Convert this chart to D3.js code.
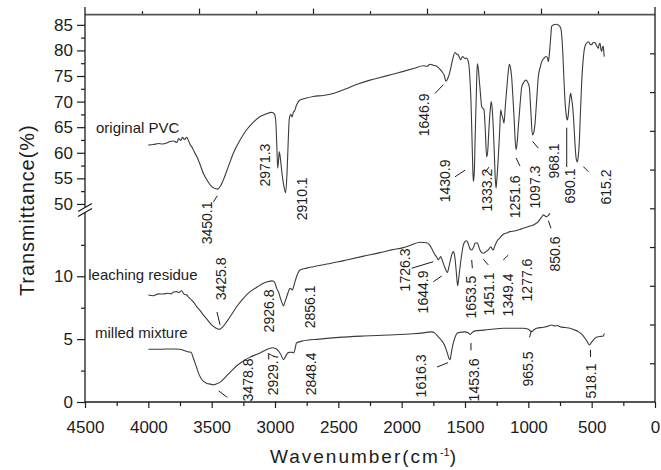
<!DOCTYPE html>
<html>
<head>
<meta charset="utf-8">
<script src="https://cdn.jsdelivr.net/npm/d3@7"></script>
<style>
  body { margin: 0; background: #fff; }
  svg { display: block; }
  text { font-family: "Liberation Sans", Arial, Helvetica, sans-serif; fill: #1c1c1c; }
</style>
</head>
<body>
<svg id="chart" width="661" height="470"></svg>
<script>
// FTIR spectra: [wavenumber (cm-1), transmittance (%)]
const originalPVC = [
  [4000,61.5],[3960,61.6],[3920,61.8],[3890,61.7],[3855,61.9],[3830,62.2],[3800,62.3],[3775,62.0],
  [3760,62.8],[3745,62.4],[3730,63.0],[3715,62.6],[3697,63.0],[3680,62.2],[3670,61.6],[3658,61.2],
  [3640,60.3],[3618,59.3],[3590,57.6],[3566,56.0],[3530,54.4],[3500,53.4],[3470,53.0],[3455,52.9],
  [3430,53.5],[3408,54.7],[3370,57.2],[3329,59.9],[3280,62.3],[3224,64.5],[3170,66.0],[3118,67.1],
  [3070,67.6],[3026,67.9],[3005,67.6],[2995,66.5],[2985,61.0],[2979,57.0],[2972,58.5],[2966,60.2],
  [2958,59.0],[2945,56.0],[2930,53.5],[2916,52.2],[2905,56.0],[2896,62.0],[2887,66.7],[2875,67.5],
  [2866,67.0],[2855,67.9],[2845,68.2],[2832,69.2],[2815,70.0],[2803,70.3],[2750,70.7],[2698,71.0],
  [2620,71.2],[2540,71.6],[2450,72.4],[2350,73.4],[2250,74.2],[2171,74.7],[2080,75.3],[1987,75.9],
  [1900,76.5],[1830,77.0],[1800,76.9],[1776,77.3],[1750,77.1],[1724,76.9],[1700,76.4],[1684,75.9],
  [1665,75.2],[1650,74.0],[1635,74.6],[1618,75.9],[1600,78.0],[1579,79.6],[1566,79.3],[1553,79.1],
  [1534,78.2],[1520,78.8],[1513,78.7],[1500,78.4],[1487,78.5],[1476,78.0],[1468,76.9],[1460,74.0],
  [1453,70.3],[1445,63.0],[1438,56.5],[1434,54.4],[1427,56.0],[1419,63.8],[1410,72.0],[1403,77.4],
  [1395,76.5],[1387,74.2],[1378,71.5],[1368,69.0],[1350,68.4],[1340,64.5],[1329,59.2],[1320,60.5],
  [1313,63.8],[1302,68.0],[1293,70.0],[1285,68.5],[1277,65.1],[1268,59.5],[1260,54.5],[1255,53.1],
  [1248,55.0],[1237,59.2],[1225,65.0],[1218,68.4],[1210,67.5],[1202,66.8],[1192,65.8],[1182,69.0],
  [1171,72.3],[1160,75.5],[1150,77.3],[1140,76.5],[1132,74.9],[1122,71.0],[1113,67.1],[1105,63.0],
  [1097,60.6],[1088,62.0],[1079,65.1],[1065,69.5],[1052,72.9],[1035,73.8],[1021,74.2],[1005,73.8],
  [992,72.8],[980,68.0],[968,63.5],[957,64.0],[947,65.8],[935,70.0],[921,74.9],[905,76.8],
  [894,77.8],[875,78.5],[860,78.8],[848,78.5],[842,77.8],[835,79.0],[829,80.8],[822,83.0],
  [816,84.7],[800,85.0],[776,85.1],[760,84.9],[745,84.4],[735,82.5],[729,80.1],[720,75.0],
  [711,70.3],[700,67.2],[692,66.4],[685,67.3],[679,69.0],[672,70.8],[666,71.6],[658,70.5],
  [650,69.0],[640,65.5],[632,61.9],[622,58.8],[613,58.2],[605,59.5],[598,61.9],[590,67.0],
  [579,73.6],[566,78.5],[553,80.8],[540,81.4],[526,81.7],[512,81.2],[500,81.1],[487,81.6],
  [474,81.5],[462,81.0],[448,80.4],[440,81.2],[434,81.4],[427,80.2],[421,79.8],[415,80.6],
  [408,80.8],[404,79.6],[400,78.8]
];

const leachingResidue = [
  [4000,8.51],[3960,8.45],[3920,8.6],[3882,8.59],[3850,8.65],[3820,8.6],[3800,8.75],[3776,8.78],
  [3760,8.7],[3737,8.85],[3720,8.6],[3697,8.51],[3680,8.3],[3658,8.11],[3640,7.9],[3618,7.58],
  [3590,7.25],[3566,6.92],[3530,6.5],[3500,6.13],[3470,5.9],[3440,5.78],[3410,6.0],[3381,6.39],
  [3340,7.0],[3303,7.58],[3250,8.25],[3197,8.78],[3140,9.15],[3092,9.44],[3050,9.58],[3026,9.63],
  [3010,9.6],[3000,9.44],[2985,9.0],[2970,8.7],[2961,8.38],[2945,7.9],[2934,7.64],[2920,8.0],
  [2903,8.51],[2890,8.9],[2882,9.05],[2872,9.0],[2863,8.91],[2852,9.2],[2842,9.57],[2825,10.1],
  [2803,10.5],[2750,10.65],[2698,10.76],[2600,10.95],[2500,11.15],[2434,11.3],[2300,11.6],[2171,11.88],
  [2080,12.1],[1987,12.28],[1920,12.5],[1855,12.7],[1803,12.67],[1780,12.5],[1763,12.2],[1750,11.95],
  [1737,11.7],[1722,11.5],[1711,11.3],[1700,11.45],[1692,11.56],[1680,11.3],[1671,11.03],[1655,10.6],
  [1639,10.29],[1628,10.7],[1618,11.16],[1605,11.7],[1592,11.96],[1585,11.8],[1579,11.43],[1570,10.5],
  [1558,9.25],[1550,9.8],[1539,10.76],[1525,11.8],[1513,12.49],[1500,12.75],[1487,12.83],[1475,12.6],
  [1461,12.2],[1447,12.09],[1433,12.3],[1421,12.62],[1403,12.67],[1392,12.4],[1382,12.09],[1370,11.9],
  [1355,11.83],[1335,11.95],[1316,12.09],[1297,12.35],[1287,12.2],[1277,12.09],[1265,12.4],[1250,12.75],
  [1225,13.05],[1198,13.34],[1170,13.45],[1145,13.55],[1110,13.6],[1079,13.68],[1060,13.75],[1040,13.82],
  [1015,13.9],[987,14.0],[965,14.05],[947,14.16],[925,14.3],[908,14.53],[895,14.7],[882,14.88],
  [868,14.8],[855,14.74],[842,14.85],[829,15.0]
];

const milledMixture = [
  [4000,4.2],[3900,4.2],[3800,4.22],[3751,4.2],[3725,4.12],[3707,4.06],[3690,4.0],[3663,3.96],
  [3645,3.5],[3620,2.78],[3600,2.2],[3575,1.75],[3540,1.5],[3510,1.42],[3488,1.37],[3460,1.45],
  [3430,1.6],[3390,2.0],[3342,2.49],[3300,2.9],[3254,3.23],[3200,3.55],[3137,3.82],[3080,4.1],
  [3021,4.31],[2995,4.25],[2977,4.11],[2955,3.8],[2933,3.37],[2915,3.65],[2898,3.91],[2885,3.95],
  [2875,3.96],[2862,3.95],[2851,3.91],[2840,4.3],[2831,4.69],[2787,4.84],[2650,5.0],[2495,5.14],
  [2300,5.25],[2100,5.33],[1911,5.43],[1830,5.5],[1765,5.58],[1740,5.5],[1721,5.29],[1690,4.95],
  [1663,4.55],[1640,3.9],[1625,3.45],[1618,3.37],[1608,3.9],[1596,4.55],[1580,5.1],[1560,5.49],
  [1530,5.55],[1502,5.58],[1475,5.5],[1458,5.38],[1445,5.5],[1429,5.64],[1350,5.72],[1270,5.8],
  [1198,5.86],[1120,5.86],[1040,5.86],[1000,5.78],[985,5.65],[974,5.6],[955,5.75],[934,5.86],
  [880,5.95],[840,6.05],[816,6.13],[790,6.05],[770,6.08],[750,5.99],[710,5.92],[671,5.86],
  [640,5.75],[605,5.6],[575,5.35],[553,5.07],[535,4.8],[518,4.53],[505,4.7],[487,4.93],
  [470,5.1],[448,5.19],[425,5.22],[408,5.25],[400,5.46]
];

// Axis ticks
const xTicks = [4500, 4000, 3500, 3000, 2500, 2000, 1500, 1000, 500, 0];
const upperTicks = [50, 55, 60, 65, 70, 75, 80, 85];
const lowerTicks = [0, 5, 10];

// Peak labels: text, label anchor (wavenumber, transmittance), optional leader line
const pvcPeaks = [
  { text: "3450.1", w: 3533, t: 46.3, lead: [3486, 50.4, 3455, 51.6] },
  { text: "2971.3", w: 3079, t: 57.6 },
  { text: "2910.1", w: 2787, t: 51.0 },
  { text: "1646.9", w: 1824, t: 67.4, lead: [1737, 71.6, 1671, 73.3] },
  { text: "1430.9", w: 1658, t: 54.5, lead: [1579, 55.3, 1500, 56.6] },
  { text: "1333.2", w: 1330, t: 52.7, lead: [1342, 56.1, 1311, 57.2] },
  { text: "1251.6", w: 1105, t: 51.4, lead: [1097, 59.0, 1066, 57.4] },
  { text: "1097.3", w: 947,  t: 53.3, lead: [966, 62.2, 921, 60.9] },
  { text: "968.1",  w: 801,  t: 58.4 },
  { text: "690.1",  w: 675,  t: 53.5, lead: [697, 64.9, 697, 57.2] },
  { text: "615.2",  w: 383,  t: 53.3, lead: [566, 57.3, 526, 56.3] }
];
const residuePeaks = [
  { text: "3425.8", w: 3426, t: 9.79, lead: [3458, 7.16, 3434, 6.13] },
  { text: "2926.8", w: 3047, t: 7.24 },
  { text: "2856.1", w: 2724, t: 7.56 },
  { text: "1726.3", w: 1970, t: 10.5, lead: [1921, 10.64, 1750, 11.16] },
  { text: "1644.9", w: 1828, t: 8.75, lead: [1750, 9.57, 1684, 10.02] },
  { text: "1653.5", w: 1453, t: 8.35, lead: [1447, 11.3, 1442, 10.64] },
  { text: "1451.1", w: 1310, t: 8.59, lead: [1355, 11.35, 1316, 10.9] },
  { text: "1349.4", w: 1164, t: 8.51, lead: [1198, 11.3, 1158, 11.69] },
  { text: "1277.6", w: 1014, t: 9.7 },
  { text: "850.6",  w: 793,  t: 11.77, lead: [842, 14.42, 821, 13.82] }
];
const mixturePeaks = [
  { text: "3478.8", w: 3210, t: 1.75, lead: [3444, 0.875, 3377, 0.374] },
  { text: "2929.7", w: 3016, t: 2.23 },
  { text: "2848.4", w: 2716, t: 2.23 },
  { text: "1616.3", w: 1847, t: 2.07, lead: [1721, 2.78, 1634, 3.13] },
  { text: "1453.6", w: 1429, t: 1.75, lead: [1453, 4.69, 1453, 4.11] },
  { text: "965.5",  w: 999,  t: 2.63, lead: [991, 5.14, 976, 5.67] },
  { text: "518.1",  w: 509,  t: 1.67, lead: [509, 4.14, 509, 3.58] }
];

const seriesNames = [
  { text: "original PVC",    w: 4413, t: 63.9, seg: "upper" },
  { text: "leaching residue", w: 4474, t: 9.7, seg: "lower" },
  { text: "milled mixture",  w: 4421, t: 5.07, seg: "lower" }
];

// ---- scales (broken y axis: upper and lower segments) ----
const svg = d3.select("#chart");
const left = 85, right = 655, bottom = 402, frameTop = 14.6, axisTop = 7;
const x = d3.scaleLinear().domain([4500, 0]).range([left, right]);
const yUp = d3.scaleLinear().domain([49.5, 87]).range([206.5, frameTop]);
const yLo = d3.scaleLinear().domain([0, 15]).range([bottom, 213.4]);
const topScale = d3.scaleLinear().domain([0, 10]).range([left, right]);
const rightScale = d3.scaleLinear().domain([0, 10]).range([bottom, frameTop]);

const ink = "#1c1c1c";
const curveInk = "#3b3b3b";

// ---- spectra ----
const lineUp = d3.line().x(d => x(d[0])).y(d => yUp(d[1])).curve(d3.curveMonotoneX);
const lineLo = d3.line().x(d => x(d[0])).y(d => yLo(d[1])).curve(d3.curveMonotoneX);
svg.append("path").attr("d", lineUp(originalPVC)).attr("fill", "none").attr("stroke", curveInk).attr("stroke-width", 1.1);
svg.append("path").attr("d", lineLo(leachingResidue)).attr("fill", "none").attr("stroke", curveInk).attr("stroke-width", 1.1);
svg.append("path").attr("d", lineLo(milledMixture)).attr("fill", "none").attr("stroke", curveInk).attr("stroke-width", 1.1);

// ---- peak labels ----
function drawPeaks(list, y) {
  const g = svg.append("g");
  list.forEach(p => {
    g.append("text")
      .attr("transform", `translate(${x(p.w)},${y(p.t)}) rotate(-90)`)
      .attr("text-anchor", "middle")
      .attr("dominant-baseline", "central")
      .style("font-size", "14px")
      .text(p.text);
    if (p.lead) {
      g.append("line")
        .attr("x1", x(p.lead[0])).attr("y1", y(p.lead[1]))
        .attr("x2", x(p.lead[2])).attr("y2", y(p.lead[3]))
        .attr("stroke", ink).attr("stroke-width", 1);
    }
  });
}
drawPeaks(pvcPeaks, yUp);
drawPeaks(residuePeaks, yLo);
drawPeaks(mixturePeaks, yLo);

seriesNames.forEach(s => {
  const y = s.seg === "upper" ? yUp : yLo;
  svg.append("text").attr("x", x(s.w)).attr("y", y(s.t))
    .style("font-size", "15px").text(s.text);
});

// ---- axes ----
function styleAxis(g, fontSize) {
  g.select(".domain").remove();
  g.selectAll(".tick line").attr("stroke", ink).attr("stroke-width", 1.2);
  g.selectAll(".tick text").style("font-size", fontSize).attr("fill", ink)
    .style("font-family", '"Liberation Sans", Arial, Helvetica, sans-serif');
}

// bottom axis
const gx = svg.append("g").attr("transform", `translate(0,${bottom})`)
  .call(d3.axisBottom(x).tickValues(xTicks).tickSize(6).tickPadding(13).tickFormat(d3.format("d")));
styleAxis(gx, "17px");
const gxMinor = svg.append("g").attr("transform", `translate(0,${bottom})`)
  .call(d3.axisBottom(x).tickValues(d3.range(250, 4500, 500)).tickSize(4).tickFormat(""));
styleAxis(gxMinor, "0px");

// left axis, upper segment
const gyU = svg.append("g").attr("transform", `translate(${left},0)`)
  .call(d3.axisLeft(yUp).tickValues(upperTicks).tickSize(8).tickPadding(4).tickFormat(d3.format("d")));
styleAxis(gyU, "17px");
const gyUm = svg.append("g").attr("transform", `translate(${left},0)`)
  .call(d3.axisLeft(yUp).tickValues(d3.range(52.5, 87, 5)).tickSize(4).tickFormat(""));
styleAxis(gyUm, "0px");

// left axis, lower segment
const gyL = svg.append("g").attr("transform", `translate(${left},0)`)
  .call(d3.axisLeft(yLo).tickValues(lowerTicks).tickSize(8).tickPadding(4).tickFormat(d3.format("d")));
styleAxis(gyL, "17px");
const gyLm = svg.append("g").attr("transform", `translate(${left},0)`)
  .call(d3.axisLeft(yLo).tickValues([2.5, 7.5, 12.5]).tickSize(4).tickFormat(""));
styleAxis(gyLm, "0px");

// top axis (unlabelled, outward ticks)
const gt = svg.append("g").attr("transform", `translate(0,${frameTop})`)
  .call(d3.axisTop(topScale).tickValues([2, 4, 6, 8]).tickSize(6).tickFormat(""));
styleAxis(gt, "0px");
const gtm = svg.append("g").attr("transform", `translate(0,${frameTop})`)
  .call(d3.axisTop(topScale).tickValues([1, 3, 5, 7, 9]).tickSize(3.5).tickFormat(""));
styleAxis(gtm, "0px");

// right axis (unlabelled, inward ticks)
const gr = svg.append("g").attr("transform", `translate(${right},0)`)
  .call(d3.axisLeft(rightScale).tickValues(d3.range(1, 10)).tickSize(5).tickFormat(""));
styleAxis(gr, "0px");

// frame lines
svg.append("line").attr("x1", left).attr("x2", right).attr("y1", bottom).attr("y2", bottom)
  .attr("stroke", ink).attr("stroke-width", 1.3);
svg.append("line").attr("x1", left).attr("x2", right).attr("y1", frameTop).attr("y2", frameTop)
  .attr("stroke", "#555").attr("stroke-width", 1.8);
svg.append("line").attr("x1", right).attr("x2", right).attr("y1", axisTop).attr("y2", bottom)
  .attr("stroke", ink).attr("stroke-width", 1.3);
svg.append("line").attr("x1", left).attr("x2", left).attr("y1", axisTop).attr("y2", bottom)
  .attr("stroke", ink).attr("stroke-width", 1.3);

// axis break marks
const breakY = (yUp(49.5) + yLo(15)) / 2;
svg.append("polygon")
  .attr("points", [[left - 7, breakY + 1.5], [left + 7, breakY - 6.5], [left + 7, breakY - 1.5], [left - 7, breakY + 6.5]].map(p => p.join(",")).join(" "))
  .attr("fill", "#fff");
[breakY + 1.5, breakY + 6.5].forEach(yb => {
  svg.append("line").attr("x1", left - 7).attr("y1", yb).attr("x2", left + 7).attr("y2", yb - 8)
    .attr("stroke", ink).attr("stroke-width", 1.2);
});

// axis titles
svg.append("text")
  .attr("transform", `translate(27,${(frameTop + bottom) / 2 + 2}) rotate(-90)`)
  .attr("text-anchor", "middle").attr("dominant-baseline", "central")
  .style("font-size", "20px").style("letter-spacing", "0.9px")
  .text("Transmittance(%)");

const xt = svg.append("text")
  .attr("x", (left + right) / 2 - 6).attr("y", 463)
  .attr("text-anchor", "middle")
  .style("font-size", "19px").style("letter-spacing", "2px");
xt.append("tspan").text("Wavenumber(cm");
xt.append("tspan").attr("dy", -7).style("font-size", "11px").style("letter-spacing", "0px").text("-1");
xt.append("tspan").attr("dy", 7).text(")");
</script>
</body>
</html>
